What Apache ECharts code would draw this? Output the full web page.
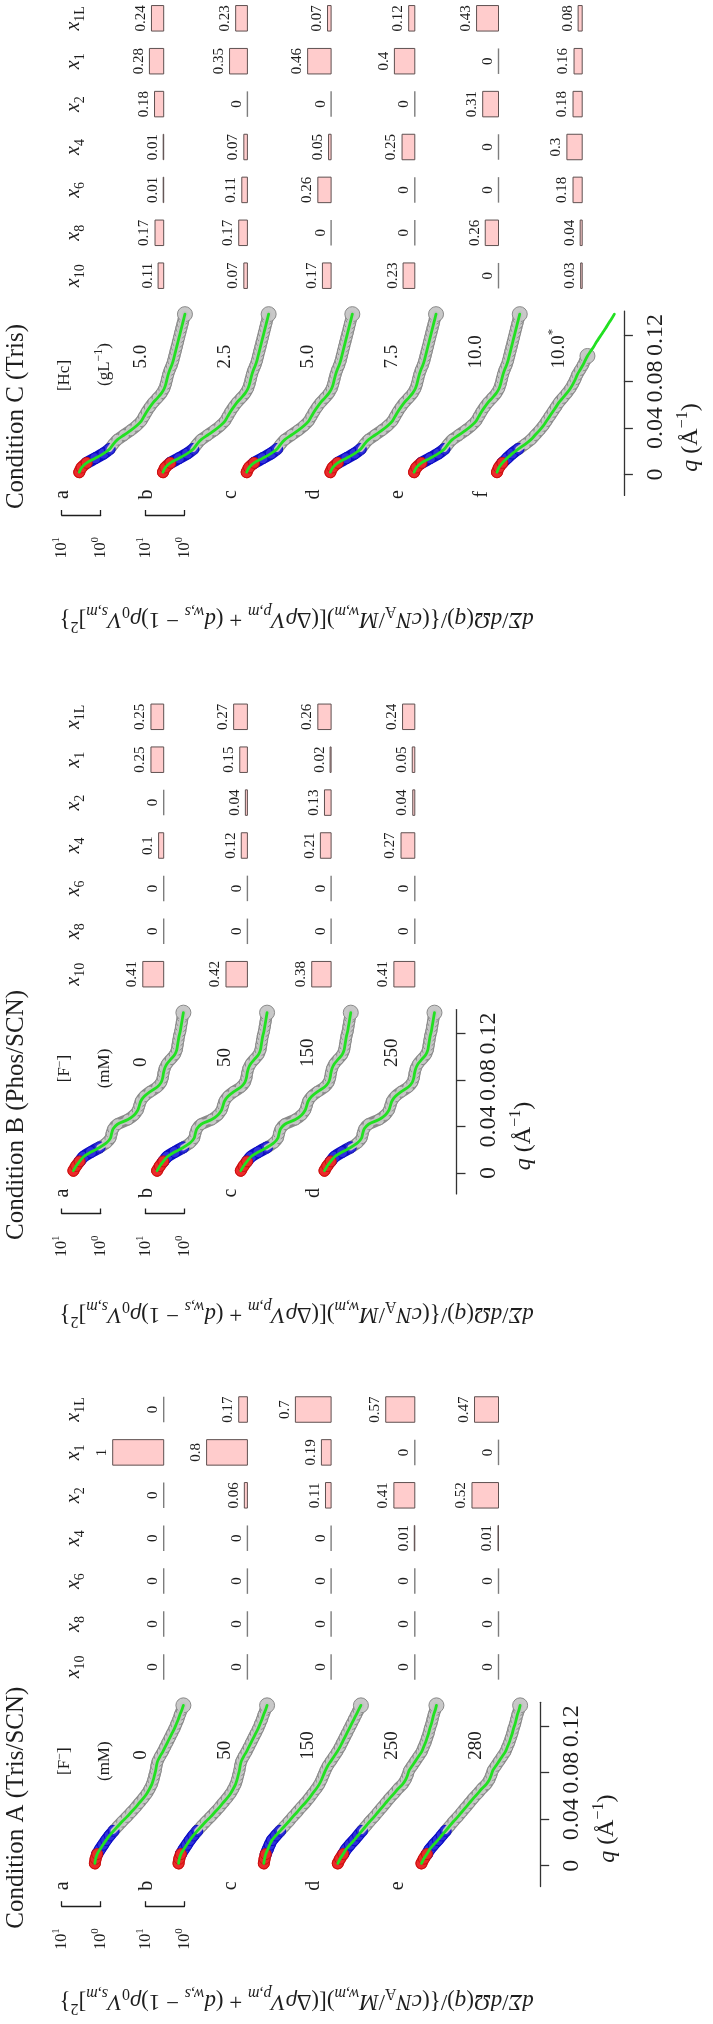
<!DOCTYPE html>
<html><head><meta charset="utf-8">
<script src="https://cdn.jsdelivr.net/npm/echarts@6/dist/echarts.min.js"></script>
<style>html,body{margin:0;padding:0;background:#fff;overflow:hidden}#c{width:713px;height:2024px}</style>
</head><body><div id="c"></div><script>
// ---------------- data ----------------
const qGrid = [0.002,0.006,0.010,0.014,0.018,0.022,0.026,0.030,0.034,0.038,0.042,0.046,0.050,0.054,0.058,0.062,0.066,0.070,0.074,0.078,0.082,0.086,0.090,0.094,0.098,0.102,0.106,0.110,0.114,0.118,0.122,0.126,0.130,0.134,0.138];
// log10 of the normalised intensity
const log10I_A_ab = [0.15,0.13,0.09,0.02,-0.06,-0.14,-0.23,-0.33,-0.44,-0.55,-0.67,-0.78,-0.89,-0.99,-1.09,-1.18,-1.25,-1.31,-1.35,-1.38,-1.41,-1.43,-1.46,-1.52,-1.59,-1.65,-1.71,-1.77,-1.83,-1.89,-1.94,-1.99,-2.03,-2.08,-2.12];
const log10I_A_c = [0.11,0.09,0.06,0.01,-0.04,-0.10,-0.20,-0.31,-0.42,-0.53,-0.63,-0.74,-0.84,-0.95,-1.05,-1.14,-1.23,-1.31,-1.37,-1.42,-1.47,-1.53,-1.61,-1.69,-1.77,-1.84,-1.90,-1.96,-2.02,-2.08,-2.14,-2.20,-2.26,-2.32,-2.38];
const log10I_A_de = [0.36,0.30,0.22,0.15,0.05,-0.06,-0.16,-0.26,-0.36,-0.46,-0.57,-0.67,-0.77,-0.87,-0.97,-1.08,-1.18,-1.30,-1.38,-1.43,-1.47,-1.55,-1.63,-1.71,-1.79,-1.84,-1.89,-1.93,-1.97,-2.00,-2.04,-2.07,-2.10,-2.14,-2.17];
const log10I_B = [0.70,0.63,0.54,0.44,0.25,0.03,-0.15,-0.25,-0.28,-0.32,-0.43,-0.70,-0.86,-0.95,-0.99,-1.03,-1.12,-1.27,-1.45,-1.55,-1.59,-1.61,-1.64,-1.70,-1.80,-1.90,-1.95,-1.97,-1.99,-2.01,-2.04,-2.06,-2.08,-2.10,-2.12];
const log10I_C_ae = [0.55,0.49,0.36,0.14,-0.07,-0.23,-0.32,-0.43,-0.60,-0.77,-0.92,-1.04,-1.11,-1.18,-1.26,-1.35,-1.46,-1.56,-1.63,-1.67,-1.70,-1.73,-1.77,-1.82,-1.86,-1.89,-1.92,-1.95,-1.98,-2.01,-2.04,-2.07,-2.10,-2.13,-2.16];
const log10I_C_f = [0.57,0.52,0.43,0.31,0.18,0.02,-0.15,-0.30,-0.41,-0.52,-0.62,-0.70,-0.78,-0.86,-0.94,-1.02,-1.12,-1.22,-1.31,-1.38,-1.44,-1.49,-1.56,-1.63,-1.69,-1.75];
const log10I_C_fFitTail = [-1.83,-1.91,-1.98,-2.06,-2.14,-2.22,-2.29,-2.37,-2.44];

const columns = ['x10','x8','x6','x4','x2','x1','x1L'];
const colSubscripts = ['10','8','6','4','2','1','1L'];
const fracA = [[0,0,0,0,0,1,0],[0,0,0,0,0.06,0.8,0.17],[0,0,0,0,0.11,0.19,0.7],[0,0,0,0.01,0.41,0,0.57],[0,0,0,0.01,0.52,0,0.47]];
const fracB = [[0.41,0,0,0.1,0,0.25,0.25],[0.42,0,0,0.12,0.04,0.15,0.27],[0.38,0,0,0.21,0.13,0.02,0.26],[0.41,0,0,0.27,0.04,0.05,0.24]];
const fracC = [[0.11,0.17,0.01,0.01,0.18,0.28,0.24],[0.07,0.17,0.11,0.07,0,0.35,0.23],[0.17,0,0.26,0.05,0,0.46,0.07],[0.23,0,0,0.25,0,0.4,0.12],[0,0.26,0,0,0.31,0,0.43],[0.03,0.04,0.18,0.3,0.18,0.16,0.08]];
const concA = ['0','50','150','250','280'];
const concB = ['0','50','150','250'];
const concC = ['5.0','2.5','5.0','7.5','10.0','10.0{sp|*}'];
const rowLetters = ['a','b','c','d','e','f'];
const qTicks = [0,0.04,0.08,0.12];

// ---------------- layout ----------------
const SERIF = '"Liberation Serif","DejaVu Serif",serif';
const INK = '#1e1e1e';
const D = 39, ROW = 83.7, X0 = 100.7, BASE0 = 163.7;
const QPX = 1162, QMIN = -0.018, QMAX = 0.1406;
const BARLEN = 51, BARMAX = 1.2, CAT = 42.9, BARH = 25.5;
const RED_END = 0.010;

function rich(fs){
  const lh = Math.round(fs*1.35), sfs = Math.round(fs*0.68), slh = Math.round(fs*0.82);
  const base = {fontSize:fs, fontFamily:SERIF, lineHeight:lh, fill:INK, color:INK};
  return {
    n: Object.assign({}, base),
    i: Object.assign({}, base, {fontStyle:'italic'}),
    sp: {fontSize:sfs, fontFamily:SERIF, lineHeight:slh, verticalAlign:'top', fill:INK, color:INK},
    sb: {fontSize:sfs, fontFamily:SERIF, lineHeight:slh, verticalAlign:'bottom', fill:INK, color:INK},
    sbi: {fontSize:sfs, fontFamily:SERIF, fontStyle:'italic', lineHeight:slh, verticalAlign:'bottom', fill:INK, color:INK}
  };
}
function gtext(x, y, text, fs, rot, align){
  return {type:'text', x:x, y:y, rotation: rot, silent:true,
    style:{text:text, fontSize:fs, fontFamily:SERIF, lineHeight:Math.round(fs*1.35), fill:INK,
      align: align || 'center', verticalAlign:'middle', rich: rich(fs)}};
}

const panels = [
  {title:'Condition C (Tris)', q0:474.5, ylab:619, h1:'[Hc]', h2:'(gL{sp|−1})', h1y:-99, h2y:-110,
   fracs:fracC, conc:concC, blueEnd:0.022,
   rows:[{d:log10I_C_ae},{d:log10I_C_ae},{d:log10I_C_ae},{d:log10I_C_ae},{d:log10I_C_ae},{d:log10I_C_f, fit:log10I_C_f.concat(log10I_C_fFitTail)}]},
  {title:'Condition B (Phos/SCN)', q0:1173, ylab:1314, h1:'[F{sp|−}]', h2:'(mM)', h1y:-104.5, h2y:-104.5,
   fracs:fracB, conc:concB, blueEnd:0.022,
   rows:[{d:log10I_B},{d:log10I_B},{d:log10I_B},{d:log10I_B}]},
  {title:'Condition A (Tris/SCN)', q0:1865.7, ylab:2001, h1:'[F{sp|−}]', h2:'(mM)', h1y:-104.5, h2y:-104.5,
   fracs:fracA, conc:concA, blueEnd:0.030,
   rows:[{d:log10I_A_ab},{d:log10I_A_ab},{d:log10I_A_c},{d:log10I_A_de},{d:log10I_A_de}]}
];

const grids=[], xAxes=[], yAxes=[], series=[], graphics=[];
function addGrid(g, xa, ya){
  g.containLabel = false; g.outerBoundsMode = 'none';
  grids.push(g); const gi = grids.length-1;
  xa.gridIndex = gi; ya.gridIndex = gi; xAxes.push(xa); yAxes.push(ya); return gi;
}
function renderBar(params, api){
  const v = api.value(0), c = api.value(1);
  const p0 = api.coord([0, c]), p1 = api.coord([v, c]);
  const y = p0[1];
  const ch = [];
  if (v > 0) ch.push({type:'rect', shape:{x:p1[0], y:y-BARH/2, width:p0[0]-p1[0], height:BARH},
      style:{fill:'#ffcccc', stroke:'#5e5050', lineWidth:1}});
  else ch.push({type:'line', shape:{x1:p0[0], y1:y-BARH/2, x2:p0[0], y2:y+BARH/2},
      style:{stroke:'#7d7d7d', lineWidth:1.4}});
  ch.push({type:'text', x:p1[0]-3, y:y, rotation:Math.PI/2,
    style:{text:String(v), align:'center', verticalAlign:'bottom', fontSize:15, fontFamily:SERIF, fill:INK}});
  return {type:'group', children:ch};
}
function seg(arr, a, b){
  const out=[];
  arr.forEach((v,i)=>{ const q=qGrid[i]; if(q>=a-1e-9 && q<=b+1e-9) out.push([Math.pow(10,v), q]); });
  return out;
}
function L(gi, data, color, width, z){
  return {type:'line', xAxisIndex:gi, yAxisIndex:gi, data:data, showSymbol:false, symbol:'none', z:z,
    smooth:0.3, silent:true, clip:false, lineStyle:{color:color, width:width, cap:'round', join:'round'}};
}
function rings(gi, data, fill, border, bigEnd){
  const last = data.length - 1;
  return {type:'line', xAxisIndex:gi, yAxisIndex:gi, data:data, showSymbol:true, symbol:'circle', z:2,
    symbolSize:(v, p) => (bigEnd && p.dataIndex === last) ? 15 : 11,
    smooth:0.3, silent:true, clip:false, lineStyle:{color:border, width:12, cap:'round'},
    itemStyle:{color:fill, borderColor:border, borderWidth:1}};
}

panels.forEach(P => {
  const n = P.fracs.length, q0 = P.q0;
  const axisX = BASE0 + ROW*(n-1) + 41.7;
  const gTop = q0 - QMAX*QPX, gH = (QMAX-QMIN)*QPX;

  // bars of fractions
  P.fracs.forEach((fr, r) => {
    const right = BASE0 + ROW*r;
    const gi = addGrid({left:right-BARLEN*BARMAX, top:q0-198.8-6.5*CAT, width:BARLEN*BARMAX, height:7*CAT},
      {type:'value', min:0, max:BARMAX, inverse:true, show:false},
      {type:'category', data:columns, show:r===0, position:'left',
       axisLine:{show:false}, axisTick:{show:false}, splitLine:{show:false},
       axisLabel:{show:true, interval:0, rotate:90, margin:15,
         formatter:(val, idx)=>'{i|x}{sb|'+colSubscripts[idx]+'}', rich:rich(20)}});
    series.push({type:'custom', xAxisIndex:gi, yAxisIndex:gi, silent:true, clip:false,
      data: fr.map((v,i)=>[v,i]), encode:{x:0, y:1}, renderItem:renderBar});
  });

  // curves
  P.rows.forEach((row, r) => {
    const x0 = X0 + ROW*r;
    const gi = addGrid({left:x0-1.5*D, top:gTop, width:4.5*D, height:gH},
      {type:'log', logBase:10, min:0.001, max:Math.pow(10,1.5), inverse:true, show:false},
      {type:'value', min:QMIN, max:QMAX, show:false});
    const data = row.d, fit = row.fit || row.d;
    const grayPts = seg(data, P.blueEnd, 1), bluePts = seg(data, RED_END, P.blueEnd), redPts = seg(data, 0, RED_END);
    series.push(rings(gi, grayPts, '#c8c8c8', '#8a8a8a', true));
    series.push(rings(gi, bluePts, '#3030dc', '#0c0cc4', false));
    series.push(rings(gi, redPts, '#ec2a2a', '#cc1010', false));
    series.push(L(gi, grayPts, '#c2c2c2', 6, 5));
    series.push(L(gi, seg(fit, 0, 1), '#22e022', 2.8, 6));

    // scale bars (decade) for the first two rows
    if (r < 2) {
      addGrid({left:x0-D, top:q0+40.5-2, width:D, height:2},
        {type:'log', logBase:10, min:1, max:10, inverse:true, position:'bottom',
         axisLine:{show:true, onZero:false, lineStyle:{color:INK, width:1.3}},
         axisTick:{show:true, inside:true, length:5, lineStyle:{color:INK, width:1.3}},
         splitLine:{show:false}, minorTick:{show:false},
         axisLabel:{show:true, rotate:90, margin:22,
           formatter:(v)=>'{n|10}{sp|'+Math.round(Math.log10(v))+'}', rich:rich(16)}},
        {type:'value', min:0, max:1, show:false});
    }
    graphics.push(gtext(63 + ROW*r, q0+20, rowLetters[r], 20, Math.PI/2));
    graphics.push(gtext(141 + ROW*r, q0-106, P.conc[r], 19, Math.PI/2, 'left'));
  });

  // q axis
  addGrid({left:axisX-20, top:gTop, width:20, height:gH},
    {type:'value', min:0, max:1, show:false},
    {type:'value', min:QMIN, max:QMAX, position:'right',
     axisLine:{show:true, onZero:false, lineStyle:{color:'#333', width:1.3}},
     axisTick:{show:true, customValues:qTicks, length:9, lineStyle:{color:'#333', width:1.3}},
     axisLabel:{show:true, customValues:qTicks, rotate:90, margin:20, fontSize:24, fontFamily:SERIF, color:INK,
       formatter:(v)=>String(v)},
     splitLine:{show:false}});

  graphics.push(gtext(axisX+67, q0-37, '{i|q} (Å{sp|−1})', 24, Math.PI/2));
  graphics.push(gtext(16, q0-58, P.title, 25, Math.PI/2));
  graphics.push(gtext(65, q0+P.h1y, P.h1, 17, Math.PI/2));
  graphics.push(gtext(104.5, q0+P.h2y, P.h2, 17, Math.PI/2));
  graphics.push(gtext(296.6, P.ylab,
    '{i|dΣ}/{i|dΩ}({i|q})/{({i|cN}{sb|A}/{i|M}{sbi|w,m})[({n|Δ}{i|ρV}{sbi|p,m} + ({i|d}{sbi|w,s} − 1){i|ρ}{sb|0}{i|V}{sbi|s,m}]{sp|2}}',
    23, Math.PI));
});

const chart = echarts.init(document.getElementById('c'), null, {renderer:'canvas', width:713, height:2024});
chart.setOption({animation:false, backgroundColor:'#ffffff',
  grid:grids, xAxis:xAxes, yAxis:yAxes, series:series, graphic:{elements:graphics}});
</script></body></html>
